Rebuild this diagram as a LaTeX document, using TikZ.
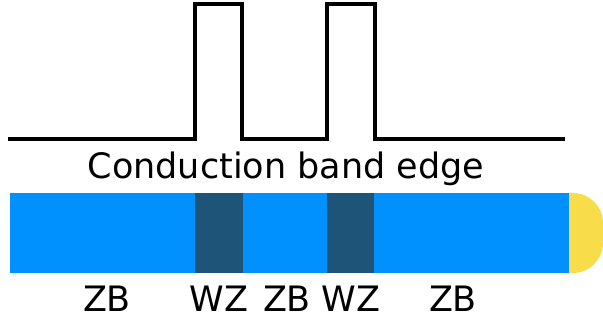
\documentclass[tikz,border=0pt]{standalone}
\usepackage{fontspec}
\setmainfont{DejaVu Sans}
\definecolor{zbblue}{RGB}{0,145,255}
\definecolor{wzblue}{RGB}{31,84,121}
\definecolor{gold}{RGB}{249,220,74}
\begin{document}
\begin{tikzpicture}[x=1pt,y=-1pt,
  lbl/.style={font=\fontsize{35}{40}\selectfont, inner sep=0pt, anchor=base},
  band/.style={line width=3.3pt, line join=miter}]
\useasboundingbox (0,0) rectangle (603,320);
% conduction band edge profile
\coordinate (s) at (8,139);
\coordinate (e) at (565,139);
\draw[band] (s) -- (195,139) -- (195,4) -- (242,4) -- (242,139) -- (327,139) -- (327,4) -- (375,4) -- (375,139) -- (e);
\node[lbl] (title) at (286,179) {Conduction band edge};
% nanowire
\fill[zbblue] (10,193) rectangle (569,273);
\fill[wzblue] (195,193) rectangle (243,273);
\fill[wzblue] (327,193) rectangle (374,273);
\fill[gold] (569,193) -- (573,193) arc[start angle=-90,end angle=0,radius=30] -- (603,243) arc[start angle=0,end angle=90,radius=30] -- (569,273) -- cycle;
% labels
\node[lbl] (zb1) at (107,312) {ZB};
\node[lbl] (wz1) at (219,312) {WZ};
\node[lbl] (zb2) at (287,312) {ZB};
\node[lbl] (wz2) at (351,312) {WZ};
\node[lbl] (zb3) at (453,312) {ZB};
\end{tikzpicture}
\end{document}
